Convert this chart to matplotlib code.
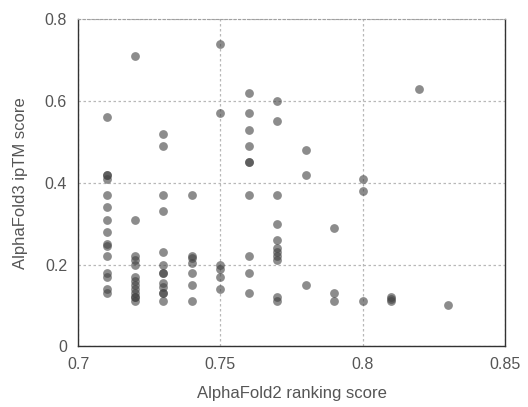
import matplotlib
matplotlib.use("Agg")
import matplotlib.pyplot as plt

plt.rcParams["font.family"] = ["Liberation Sans", "DejaVu Sans"]

# AlphaFold2 ranking score -> AlphaFold3 ipTM score, one list per column
x_071 = [0.56, 0.42, 0.42, 0.41, 0.37, 0.34, 0.31, 0.28, 0.25, 0.245, 0.22, 0.18, 0.17, 0.14, 0.13]
x_072 = [0.71, 0.31, 0.22, 0.21, 0.20, 0.17, 0.16, 0.15, 0.14, 0.13, 0.12, 0.12, 0.11]
x_073 = [0.52, 0.49, 0.37, 0.33, 0.23, 0.20, 0.18, 0.18, 0.155, 0.145, 0.13, 0.13, 0.11]
x_074 = [0.37, 0.22, 0.215, 0.205, 0.18, 0.15, 0.11]
x_075 = [0.74, 0.57, 0.20, 0.19, 0.17, 0.14]
x_076 = [0.62, 0.57, 0.53, 0.49, 0.45, 0.45, 0.37, 0.22, 0.18, 0.13]
x_077 = [0.60, 0.55, 0.37, 0.30, 0.26, 0.24, 0.23, 0.22, 0.21, 0.12, 0.11]
x_078 = [0.48, 0.42, 0.15]
x_079 = [0.29, 0.13, 0.11]
x_080 = [0.41, 0.38, 0.11]
x_081 = [0.12, 0.115, 0.11]
x_082 = [0.63]
x_083 = [0.10]

columns = [(0.71, x_071), (0.72, x_072), (0.73, x_073), (0.74, x_074),
           (0.75, x_075), (0.76, x_076), (0.77, x_077), (0.78, x_078),
           (0.79, x_079), (0.80, x_080), (0.81, x_081), (0.82, x_082),
           (0.83, x_083)]

xs = []
ys = []
for xv, col in columns:
    for yv in col:
        xs.append(xv)
        ys.append(yv)

fig = plt.figure(figsize=(5.28, 4.07), dpi=100)
ax = fig.add_axes([0.148, 0.149, 0.808, 0.804])

ax.scatter(xs, ys, s=40, color="#404040", alpha=0.6, linewidths=0, zorder=3)

ax.set_xlim(0.7, 0.85)
ax.set_ylim(0, 0.8)
ax.set_xticks([0.7, 0.75, 0.8, 0.85])
ax.set_xticklabels(["0.7", "0.75", "0.8", "0.85"])
ax.set_yticks([0, 0.2, 0.4, 0.6, 0.8])
ax.set_yticklabels(["0", "0.2", "0.4", "0.6", "0.8"])
ax.tick_params(length=0, labelsize=11.5, labelcolor="#555555", pad=8)

ax.grid(True, color="#b8b8b8", linestyle=(0, (2, 2)), linewidth=0.9, zorder=0)
for side in ["left", "bottom", "right"]:
    ax.spines[side].set_color("#333333")
    ax.spines[side].set_linewidth(1.0)
ax.spines["top"].set_color("#a0a0a0")
ax.spines["top"].set_linestyle((0, (2, 2)))

ax.set_xlabel("AlphaFold2 ranking score", fontsize=12, color="#555555", labelpad=10)
ax.set_ylabel("AlphaFold3 ipTM score", fontsize=12, color="#555555", labelpad=12)

fig.savefig("out.png", dpi=100)
